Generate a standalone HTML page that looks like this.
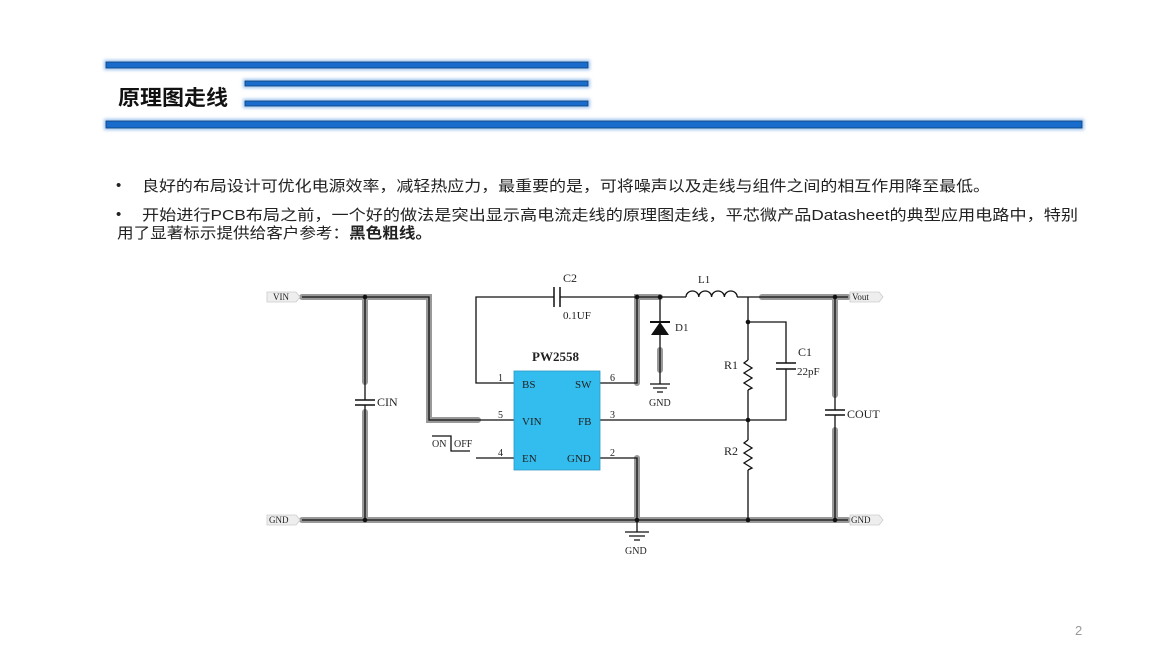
<!DOCTYPE html>
<html><head><meta charset="utf-8"><style>
html,body{margin:0;padding:0;background:#fff;}
svg{display:block;}
text{font-family:"Liberation Sans","Noto Sans CJK SC",sans-serif;}
.s text, text.s{font-family:"Liberation Serif","Noto Serif CJK SC",serif;fill:#222;}
</style></head><body>
<svg width="1173" height="660" viewBox="0 0 1173 660" xmlns="http://www.w3.org/2000/svg">
<defs>
<filter id="gl" x="-5%" y="-100%" width="110%" height="300%"><feGaussianBlur stdDeviation="1.5"/></filter>
</defs>
<g>
<rect x="104" y="60" width="486" height="10" fill="#9cc3ee" filter="url(#gl)"/>
<rect x="106" y="62" width="482" height="6" fill="#1a6ccc" stroke="#0b3f7a" stroke-width="0.8"/>
<rect x="243" y="79" width="347" height="9" fill="#9cc3ee" filter="url(#gl)"/>
<rect x="245" y="81" width="343" height="5" fill="#1a6ccc" stroke="#0b3f7a" stroke-width="0.8"/>
<rect x="243" y="99" width="347" height="9" fill="#9cc3ee" filter="url(#gl)"/>
<rect x="245" y="101" width="343" height="5" fill="#1a6ccc" stroke="#0b3f7a" stroke-width="0.8"/>
<rect x="104" y="119" width="980" height="11" fill="#9cc3ee" filter="url(#gl)"/>
<rect x="106" y="121" width="976" height="7" fill="#1a6ccc" stroke="#0b3f7a" stroke-width="0.8"/>
</g>
<text x="118" y="105" font-size="21" font-weight="bold" fill="#111" textLength="110" lengthAdjust="spacingAndGlyphs">原理图走线</text>
<g font-size="15" fill="#222">
<text x="116" y="190">•</text>
<text x="142" y="191" textLength="848" lengthAdjust="spacingAndGlyphs">良好的布局设计可优化电源效率，减轻热应力，最重要的是，可将噪声以及走线与组件之间的相互作用降至最低。</text>
<text x="116" y="219">•</text>
<text x="142" y="220" textLength="936" lengthAdjust="spacingAndGlyphs">开始进行PCB布局之前，一个好的做法是突出显示高电流走线的原理图走线，平芯微产品Datasheet的典型应用电路中，特别</text>
<text x="117" y="238" textLength="315" lengthAdjust="spacingAndGlyphs">用了显著标示提供给客户参考：<tspan font-weight="bold">黑色粗线。</tspan></text>
</g>
<g stroke="#999" stroke-width="6" fill="none" stroke-linecap="round">
<path d="M302 297 H429 V420 H478"/>
<path d="M365 297 V382"/><path d="M365 412 V520"/>
<path d="M302 520 H848"/>
<path d="M637 458 V520"/>
<path d="M637 383 V297 H660"/>
<path d="M660 350 V370"/>
<path d="M762 297 H848"/>
<path d="M835 297 V395"/><path d="M835 430 V520"/>
</g>
<g stroke="#111" stroke-width="1.3" fill="none">
<path d="M302 297 H429 V420 H514"/>
<path d="M365 297 V400"/><path d="M365 405 V520"/>
<path d="M302 520 H848"/>
<path d="M514 383 H476 V297 H554"/><path d="M560 297 H686"/>
<path d="M600 383 H637 V297"/>
<path d="M600 420 H748"/>
<path d="M600 458 H637 V532"/>
<path d="M476 458 H514"/>
<path d="M660 297 V384"/>
<path d="M737 297 H848"/>
<path d="M748 297 V360"/><path d="M748 390 V440"/><path d="M748 470 V520"/>
<path d="M748 322 H786 V363"/><path d="M786 369 V420 H748"/>
<path d="M835 297 V410"/><path d="M835 415 V520"/>
<path d="M355 400 H375 M355 405 H375" stroke-width="1.5"/>
<path d="M554 287 V307 M560 287 V307" stroke-width="1.5"/>
<path d="M776 363 H796 M776 369 H796" stroke-width="1.5"/>
<path d="M825 410 H845 M825 415 H845" stroke-width="1.5"/>
<path d="M748 360 l-4 3 l8 5 l-8 5 l8 5 l-8 5 l8 5 l-4 2"/>
<path d="M748 440 l-4 3 l8 5 l-8 5 l8 5 l-8 5 l8 5 l-4 2"/>
<path d="M686 297 a6.4 6 0 0 1 12.8 0 a6.4 6 0 0 1 12.8 0 a6.4 6 0 0 1 12.8 0 a6.4 6 0 0 1 12.8 0"/>
<path d="M650 384 H670 M653 388 H667 M657 392 H663"/>
<path d="M625 532 H649 M629 536 H645 M634 540 H640"/>
<path d="M432 436 H451 V451 H470"/>
</g>
<path d="M660 322 L651 335 H669 Z" fill="#111"/>
<path d="M650 322 H670" stroke="#111" stroke-width="2"/>
<g fill="#111">
<circle cx="365" cy="297" r="2.3"/><circle cx="365" cy="520" r="2.3"/>
<circle cx="637" cy="297" r="2.3"/><circle cx="660" cy="297" r="2.3"/>
<circle cx="637" cy="520" r="2.3"/><circle cx="748" cy="322" r="2.3"/>
<circle cx="748" cy="420" r="2.3"/><circle cx="748" cy="520" r="2.3"/>
<circle cx="835" cy="297" r="2.3"/><circle cx="835" cy="520" r="2.3"/>
</g>
<g fill="#eee" stroke="#ccc" stroke-width="0.8">
<path d="M267 292 H296 L300 297 L296 302 H267 Z"/>
<path d="M267 515 H296 L300 520 L296 525 H267 Z"/>
<path d="M850 292 H879 L883 297 L879 302 H850 Z"/>
<path d="M850 515 H879 L883 520 L879 525 H850 Z"/>
</g>
<g class="s" font-size="9">
<text x="273" y="300">VIN</text>
<text x="269" y="523">GND</text>
<text x="852" y="300">Vout</text>
<text x="851" y="523">GND</text>
</g>
<rect x="514" y="371" width="86" height="99" fill="#33bdee" stroke="#2a9ac4" stroke-width="0.8"/>
<text x="532" y="361" class="s" font-size="13" font-weight="bold">PW2558</text>
<g class="s" font-size="11">
<text x="522" y="388">BS</text><text x="575" y="388">SW</text>
<text x="522" y="425">VIN</text><text x="578" y="425">FB</text>
<text x="522" y="462">EN</text><text x="567" y="462">GND</text>
<text x="498" y="381" font-size="10">1</text><text x="498" y="418" font-size="10">5</text><text x="498" y="456" font-size="10">4</text>
<text x="610" y="381" font-size="10">6</text><text x="610" y="418" font-size="10">3</text><text x="610" y="456" font-size="10">2</text>
<text x="377" y="406" font-size="12">CIN</text>
<text x="563" y="282" font-size="12">C2</text>
<text x="563" y="319">0.1UF</text>
<text x="675" y="331">D1</text>
<text x="649" y="406" font-size="10">GND</text>
<text x="625" y="554" font-size="10">GND</text>
<text x="698" y="283">L1</text>
<text x="724" y="369" font-size="12">R1</text>
<text x="724" y="455" font-size="12">R2</text>
<text x="798" y="356" font-size="12">C1</text>
<text x="797" y="375">22pF</text>
<text x="847" y="418" font-size="12">COUT</text>
<text x="432" y="447" font-size="10">ON</text>
<text x="454" y="447" font-size="10">OFF</text>
</g>
<text x="1075" y="635" font-size="13" fill="#999">2</text>
</svg>
</body></html>
